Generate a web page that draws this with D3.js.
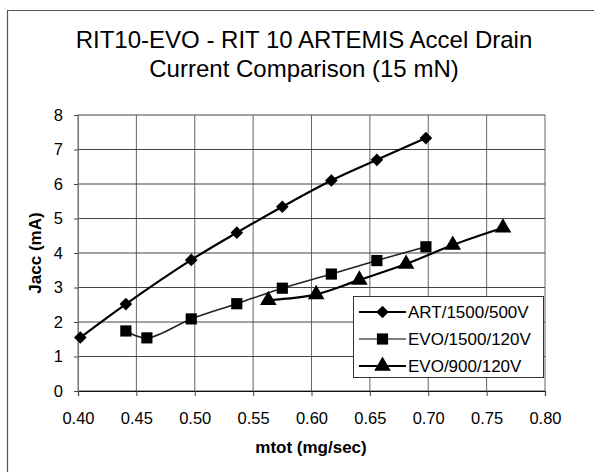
<!DOCTYPE html>
<html><head><meta charset="utf-8">
<script src="https://cdn.jsdelivr.net/npm/d3@7"></script>
<style>body{margin:0;background:#fff;} svg{display:block;font-family:"Liberation Sans",Arial,sans-serif;}</style>
</head><body>
<svg id="c" width="594" height="472"></svg>
<script>
const titleLines = ["RIT10-EVO - RIT 10 ARTEMIS Accel Drain", "Current Comparison (15 mN)"];
const xTicks = [0.40,0.45,0.50,0.55,0.60,0.65,0.70,0.75,0.80];
const yTicks = [0,1,2,3,4,5,6,7,8];
const artX = [0.402,0.441,0.497,0.536,0.575,0.617,0.656,0.698];
const artY = [1.55,2.52,3.80,4.59,5.34,6.10,6.70,7.33];
const evo1500X = [0.441,0.459,0.497,0.536,0.575,0.617,0.656,0.698];
const evo1500Y = [1.74,1.54,2.09,2.53,2.98,3.39,3.78,4.18];
const evo900X = [0.563,0.604,0.641,0.681,0.721,0.764];
const evo900Y = [2.63,2.80,3.22,3.68,4.23,4.73];
const seriesNames = ["ART/1500/500V","EVO/1500/120V","EVO/900/120V"];

const svg = d3.select("#c");
const x = d3.scaleLinear().domain([0.40,0.80]).range([78,545]);
const y = d3.scaleLinear().domain([0,8]).range([391,115]);
const FF = "Liberation Sans, Arial, sans-serif";

// frame (top and left lines)
svg.append("line").attr("x1",7).attr("x2",594).attr("y1",10.5).attr("y2",10.5).attr("stroke","#555").attr("stroke-width",1.2);
svg.append("line").attr("x1",7.5).attr("x2",7.5).attr("y1",10).attr("y2",472).attr("stroke","#555").attr("stroke-width",1.2);

// title
svg.append("text").attr("x",304).attr("y",48).attr("text-anchor","middle").attr("font-size",24).text(titleLines[0]);
svg.append("text").attr("x",304).attr("y",77).attr("text-anchor","middle").attr("font-size",24).text(titleLines[1]);

// grid
const g = svg.append("g");
g.selectAll(".gx").data(xTicks).join("line").attr("x1",d=>x(d)).attr("x2",d=>x(d)).attr("y1",115).attr("y2",391).attr("stroke","#666").attr("stroke-width",1);
g.selectAll(".gy").data(yTicks).join("line").attr("x1",78).attr("x2",545).attr("y1",d=>y(d)).attr("y2",d=>y(d)).attr("stroke","#444").attr("stroke-width",1);

// axes
const xAxis = d3.axisBottom(x).tickValues(xTicks).tickFormat(d3.format(".2f")).tickSize(5).tickPadding(16);
const ax = svg.append("g").attr("transform","translate(0,391)").call(xAxis);
ax.select(".domain").attr("stroke","#111").attr("stroke-width",1.2);
ax.selectAll(".tick line").attr("stroke","#444");
ax.selectAll("text").attr("font-size",16.5).attr("font-family",FF).attr("fill","#000");
const yAxis = d3.axisLeft(y).tickValues(yTicks).tickSize(4).tickPadding(11);
const ay = svg.append("g").attr("transform","translate(78,0)").call(yAxis);
ay.select(".domain").attr("stroke","#777");
ay.selectAll(".tick line").attr("stroke","#444");
ay.selectAll("text").attr("font-size",16.5).attr("font-family",FF).attr("fill","#000");

// axis titles
svg.append("text").attr("x",311).attr("y",453).attr("text-anchor","middle").attr("font-size",17).attr("font-weight","bold").text("mtot (mg/sec)");
svg.append("text").attr("transform","translate(41,253) rotate(-90)").attr("text-anchor","middle").attr("font-size",17).attr("font-weight","bold").text("Jacc (mA)");

const series = [
  {xs:artX, ys:artY, sym:d3.symbolSquare, rot:45, size:80, sw:2.2, stroke:"#000"},
  {xs:evo1500X, ys:evo1500Y, sym:d3.symbolSquare, rot:0, size:125, sw:1.6, stroke:"#222"},
  {xs:evo900X, ys:evo900Y, sym:d3.symbolTriangle, rot:0, size:120, sw:2.2, stroke:"#000"}
];
const line = d3.line().curve(d3.curveCatmullRom.alpha(0.5));
series.forEach(s=>{
  const pts = s.xs.map((v,i)=>[x(v), y(s.ys[i])]);
  svg.append("path").attr("d",line(pts)).attr("fill","none").attr("stroke",s.stroke).attr("stroke-width",s.sw);
  svg.selectAll(null).data(pts).join("path")
    .attr("transform",d=>`translate(${d[0]},${d[1]}) rotate(${s.rot})`)
    .attr("d",d3.symbol().type(s.sym).size(s.size)).attr("fill","#000");
});

// legend
const lg = svg.append("g");
lg.append("rect").attr("x",353.5).attr("y",296.5).attr("width",190).attr("height",81).attr("fill","#fff").attr("stroke","#333").attr("stroke-width",1);
seriesNames.forEach((n,i)=>{
  const cy = 312 + i*27;
  const s = series[i];
  lg.append("line").attr("x1",359).attr("x2",406).attr("y1",cy).attr("y2",cy).attr("stroke",i===1?"#555":s.stroke).attr("stroke-width",s.sw);
  lg.append("path").attr("transform",`translate(382.5,${cy}) rotate(${s.rot})`).attr("d",d3.symbol().type(s.sym).size(s.size)).attr("fill","#000");
  lg.append("text").attr("x",408).attr("y",cy+6).attr("font-size",17).text(n);
});
</script>
</body></html>
